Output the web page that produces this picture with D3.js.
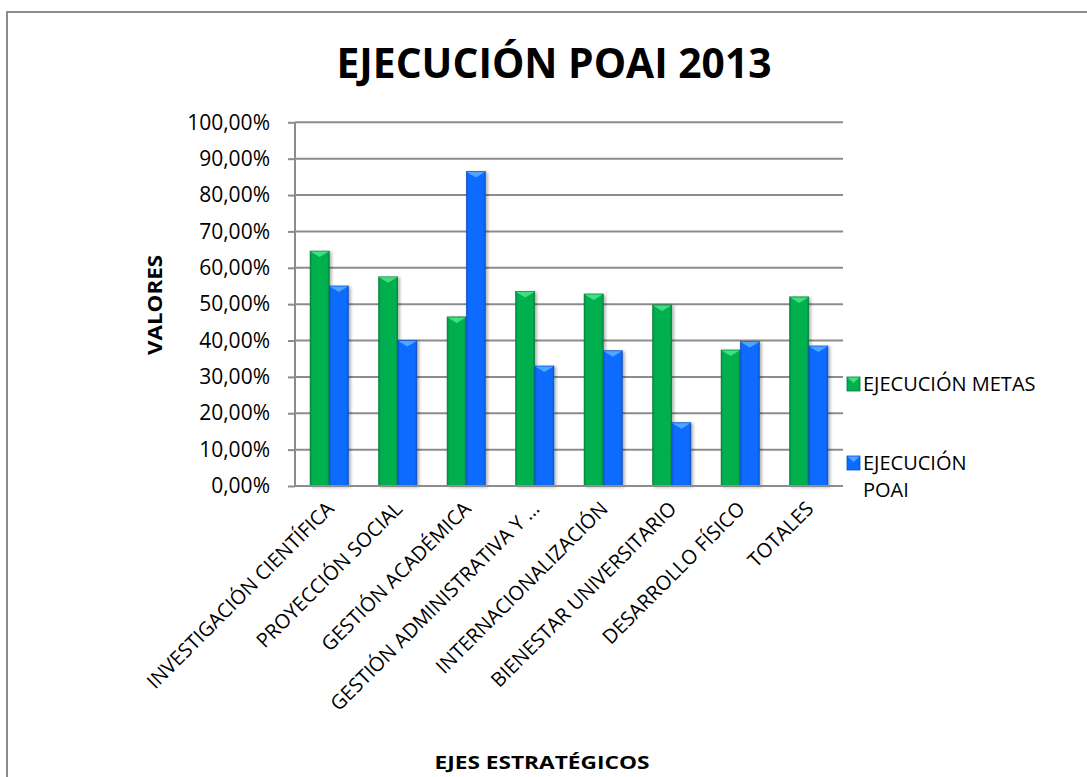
<!DOCTYPE html>
<html>
<head>
<meta charset="utf-8">
<script src="https://cdn.jsdelivr.net/npm/d3@7"></script>
<style>
  body { margin: 0; background: #fff; }
  svg { display: block; }
</style>
</head>
<body>
<svg id="chart" width="1087" height="777"></svg>
<script>
var categories = [
  "INVESTIGACIÓN CIENTÍFICA",
  "PROYECCIÓN SOCIAL",
  "GESTIÓN ACADÉMICA",
  "GESTIÓN ADMINISTRATIVA Y …",
  "INTERNACIONALIZACIÓN",
  "BIENESTAR UNIVERSITARIO",
  "DESARROLLO FÍSICO",
  "TOTALES"
];
var metas = [0.646, 0.575, 0.465, 0.535, 0.528, 0.498, 0.374, 0.520];
var poai = [0.550, 0.400, 0.865, 0.330, 0.372, 0.174, 0.397, 0.385];
var seriesNames = ["EJECUCIÓN METAS", "EJECUCIÓN POAI"];
var yTicks = [0, 0.1, 0.2, 0.3, 0.4, 0.5, 0.6, 0.7, 0.8, 0.9, 1.0];

var FONT = "'Open Sans', 'Liberation Sans', sans-serif";
var plot = { left: 295, right: 843, top: 122.3, bottom: 486 };

var svg = d3.select("#chart");

// outer frame (only top and left visible)
svg.append("path")
  .attr("d", "M7,777 L7,12 L1087,12")
  .attr("fill", "none")
  .attr("stroke", "#8c8c8c")
  .attr("stroke-width", 2);

var defs = svg.append("defs");
function barGradient(id, dark, mid) {
  var g = defs.append("linearGradient").attr("id", id)
    .attr("x1", "0%").attr("x2", "100%");
  g.append("stop").attr("offset", "0%").attr("stop-color", dark);
  g.append("stop").attr("offset", "12%").attr("stop-color", mid);
  g.append("stop").attr("offset", "88%").attr("stop-color", mid);
  g.append("stop").attr("offset", "100%").attr("stop-color", dark);
}
barGradient("gGreen", "#008a3e", "#00b050");
barGradient("gBlue", "#0a55cc", "#0a6cff");
var shadow = defs.append("filter").attr("id", "shadow")
  .attr("x", "-30%").attr("y", "-10%").attr("width", "160%").attr("height", "120%");
shadow.append("feDropShadow").attr("dx", 2).attr("dy", 1)
  .attr("stdDeviation", 1.5).attr("flood-color", "#000").attr("flood-opacity", 0.3);

var colors = [
  { fill: "url(#gGreen)", cap: "#3ee07f", edge: "#007a36", solid: "#00b050" },
  { fill: "url(#gBlue)", cap: "#4fa5ff", edge: "#0a4fbf", solid: "#0a6cff" }
];

var x0 = d3.scaleBand()
  .domain(categories)
  .range([plot.left, plot.right])
  .paddingInner(0.44)
  .paddingOuter(0.22);
var x1 = d3.scaleBand()
  .domain([0, 1])
  .range([0, x0.bandwidth()]);
var y = d3.scaleLinear().domain([0, 1]).range([plot.bottom, plot.top]);

// gridlines
svg.append("g")
  .selectAll("line")
  .data(yTicks.slice(1))
  .enter()
  .append("line")
  .attr("x1", plot.left)
  .attr("x2", plot.right)
  .attr("y1", function(d) { return y(d); })
  .attr("y2", function(d) { return y(d); })
  .attr("stroke", "#8c8c8c")
  .attr("stroke-width", 2);

// y axis
var yAxis = d3.axisLeft(y)
  .tickValues(yTicks)
  .tickSize(7)
  .tickPadding(18)
  .tickFormat(function(d) { return d3.format(".2f")(d * 100).replace(".", ",") + "%"; });
var yg = svg.append("g")
  .attr("transform", "translate(" + plot.left + ",0)")
  .call(yAxis);
yg.select(".domain").attr("stroke", "#8c8c8c").attr("stroke-width", 2)
  .attr("d", "M0," + plot.top + "V" + plot.bottom);
yg.selectAll(".tick line").attr("stroke", "#8c8c8c").attr("stroke-width", 2);
yg.selectAll(".tick text")
  .attr("font-family", FONT)
  .attr("font-size", 21)
  .attr("fill", "#000");

// bars
var rows = categories.map(function(c, i) {
  return { cat: c, vals: [metas[i], poai[i]] };
});
var groups = svg.append("g")
  .selectAll("g")
  .data(rows)
  .enter()
  .append("g")
  .attr("transform", function(d) { return "translate(" + x0(d.cat) + ",0)"; });

var bars = groups.selectAll("g.bar")
  .data(function(d) { return d.vals.map(function(v, s) { return { v: v, s: s }; }); })
  .enter()
  .append("g")
  .attr("class", "bar");

bars.append("rect")
  .attr("x", function(d) { return x1(d.s); })
  .attr("y", function(d) { return y(d.v); })
  .attr("width", x1.bandwidth())
  .attr("height", function(d) { return y(0) - y(d.v); })
  .attr("fill", function(d) { return colors[d.s].fill; })
  .attr("stroke", function(d) { return colors[d.s].edge; })
  .attr("stroke-width", 0.6)
  .attr("filter", "url(#shadow)");

bars.append("path")
  .attr("d", function(d) {
    var bx = x1(d.s), w = x1.bandwidth(), ty = y(d.v);
    return "M" + (bx + 0.5) + "," + (ty + 0.5) + "L" + (bx + w - 0.5) + "," + (ty + 0.5) +
      "L" + (bx + w / 2) + "," + (ty + 6) + "Z";
  })
  .attr("fill", function(d) { return colors[d.s].cap; });

// x axis baseline
svg.append("line")
  .attr("x1", plot.left).attr("x2", plot.right)
  .attr("y1", plot.bottom).attr("y2", plot.bottom)
  .attr("stroke", "#8c8c8c").attr("stroke-width", 2);

// category labels
svg.append("g")
  .selectAll("text")
  .data(categories)
  .enter()
  .append("text")
  .attr("transform", function(d) {
    var cx = x0(d) + x0.bandwidth() / 2 + 6;
    return "translate(" + cx + ",510) rotate(-45)";
  })
  .attr("text-anchor", "end")
  .attr("font-family", FONT)
  .attr("font-size", 20)
  .attr("fill", "#000")
  .text(function(d) { return d; });

// title
svg.append("text")
  .attr("x", 554)
  .attr("y", 78)
  .attr("text-anchor", "middle")
  .attr("font-family", FONT)
  .attr("font-weight", "bold")
  .attr("font-size", 41)
  .attr("textLength", 435)
  .attr("lengthAdjust", "spacingAndGlyphs")
  .text("EJECUCIÓN POAI 2013");

// axis titles
svg.append("text")
  .attr("x", 542)
  .attr("y", 769)
  .attr("text-anchor", "middle")
  .attr("font-family", FONT)
  .attr("font-weight", "bold")
  .attr("font-size", 18)
  .attr("textLength", 215)
  .attr("lengthAdjust", "spacingAndGlyphs")
  .text("EJES ESTRATÉGICOS");

svg.append("text")
  .attr("transform", "translate(162,305) rotate(-90)")
  .attr("text-anchor", "middle")
  .attr("font-family", FONT)
  .attr("font-weight", "bold")
  .attr("font-size", 19)
  .attr("textLength", 100)
  .attr("lengthAdjust", "spacingAndGlyphs")
  .text("VALORES");

// legend
var legendY = [384, 463];
var legend = svg.append("g")
  .selectAll("g")
  .data(seriesNames)
  .enter()
  .append("g")
  .attr("transform", function(d, i) { return "translate(847," + legendY[i] + ")"; });
legend.append("rect")
  .attr("x", 0).attr("y", -7)
  .attr("width", 13).attr("height", 14)
  .attr("fill", function(d, i) { return colors[i].solid; })
  .attr("stroke", function(d, i) { return colors[i].edge; })
  .attr("stroke-width", 0.8);
legend.append("path")
  .attr("d", "M0.5,-6.5 L12.5,-6.5 L6.5,-1 Z")
  .attr("fill", function(d, i) { return colors[i].cap; });
legend.each(function(d, i) {
  var t = d3.select(this).append("text")
    .attr("x", 16)
    .attr("y", 7)
    .attr("font-family", FONT)
    .attr("font-size", 20)
    .attr("fill", "#000");
  if (i === 0) {
    t.text(d);
  } else {
    var parts = d.split(" ");
    t.append("tspan").attr("x", 16).attr("dy", 0).text(parts[0]);
    t.append("tspan").attr("x", 16).attr("dy", 27).text(parts[1]);
  }
});
</script>
</body>
</html>
